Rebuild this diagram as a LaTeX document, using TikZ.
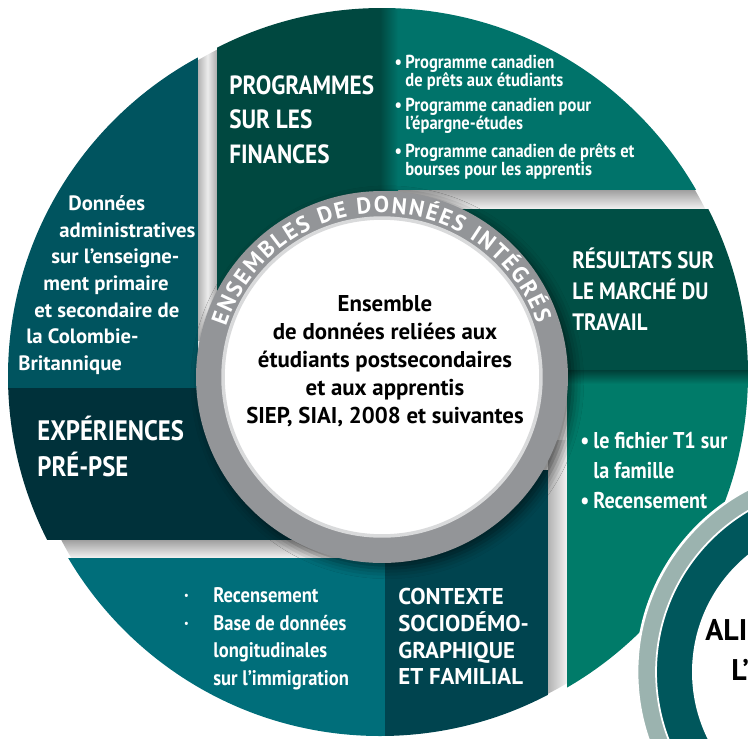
\documentclass[tikz,border=0pt]{standalone}
\usepackage{fontspec}
\setmainfont{PT Sans}
\newfontfamily\condfont[FakeStretch=0.88]{PT Sans}
\usetikzlibrary{positioning,decorations.text,shadows.blur}
\definecolor{tealblue}{HTML}{00545F}
\definecolor{deepgreen}{HTML}{004840}
\definecolor{midgreen}{HTML}{00736A}
\definecolor{darkgreen}{HTML}{004F45}
\definecolor{lightgreen}{HTML}{007B69}
\definecolor{nightteal}{HTML}{00313A}
\definecolor{oceanteal}{HTML}{006E7A}
\definecolor{slateteal}{HTML}{00444F}
\definecolor{ringgrey}{HTML}{939598}
\definecolor{sagegrey}{HTML}{9BB3AF}
\definecolor{innerteal}{HTML}{00575C}

\begin{document}
\begin{tikzpicture}[x=0.02cm, y=0.02cm,
    heading/.style={text=white, inner sep=0pt, anchor=north west, align=left,
                    font=\condfont\bfseries\fontsize{15}{19.6}\selectfont},
    listing/.style={text=white, inner sep=0pt, anchor=north west, align=left,
                    font=\condfont\bfseries\fontsize{10.7}{10.3}\selectfont},
    plain/.style={text=white, inner sep=0pt, font=\bfseries\fontsize{11.8}{15}\selectfont},
    disc/.style={circle, inner sep=0pt},
  ]
  \useasboundingbox (0,0) rectangle (748,-738);
  \clip (0,0) rectangle (748,-738);

  % shadows in the gaps between the pieces
  \begin{scope}
    \clip (382,-372) circle[radius=362];
    \shade[left color=gray!60, right color=gray!65, middle color=gray!15] (198,0) rectangle (217,-340);
    \shade[top color=gray!75, bottom color=gray!10] (380,-190) rectangle (748,-209);
    \shade[top color=gray!75, bottom color=gray!10] (0,-540) rectangle (385,-558);
    \shade[left color=gray!60, right color=gray!10] (548,-440) rectangle (567,-738);
  \end{scope}

  % the pieces of the wheel
  \begin{scope}
    \clip (370,-376) circle[radius=362];
    \fill[tealblue] (0,0) rectangle (198,-388);
    \fill[nightteal] (0,-388) rectangle (385,-540);
  \end{scope}
  \begin{scope}
    \clip (382,-370) circle[radius=362];
    \fill[deepgreen] (217,0) rectangle (380,-330);
    \shade[left color=deepgreen, right color=midgreen] (380,0) rectangle (398,-190);
    \fill[midgreen] (398,0) rectangle (748,-190);
  \end{scope}
  \begin{scope}
    \clip (386,-374) circle[radius=362];
    \fill[darkgreen] (430,-209) rectangle (748,-370);
    \fill[lightgreen] (567,-370) rectangle (748,-738);
    \shade[top color=darkgreen!80!black, bottom color=lightgreen] (567,-370) rectangle (748,-384);
  \end{scope}
  \begin{scope}
    \clip (380,-374) circle[radius=362];
    \fill[oceanteal] (0,-558) rectangle (385,-738);
    \fill[slateteal] (385,-470) rectangle (548,-738);
  \end{scope}

  % central hub
  \node[disc, fill=ringgrey, minimum size=7.44cm,
        blur shadow={shadow xshift=3pt, shadow yshift=-3pt, shadow blur radius=6pt, shadow opacity=55}]
        (ring) at (382,-377) {};
  \node[disc, fill=white, draw=ringgrey!35!white, line width=2pt, minimum size=6.36cm] (hub) at (ring.center) {};
  \path[decorate, decoration={text along path, text align={fit to path},
        text={|\bfseries\fontsize{13}{14}\selectfont\color{white}|ENSEMBLES DE DONNÉES INTÉGRÉS}}]
    ([shift={(162:164)}]ring.center) arc[start angle=162, end angle=19, radius=164];
  \node[align=center, inner sep=0pt, anchor=north, font=\bfseries\fontsize{13}{15.9}\selectfont]
    (core) at (385,-295) {Ensemble\\de données reliées aux\\étudiants postsecondaires\\et aux apprentis\\SIEP, SIAI, 2008 et suivantes};

  % headings
  \node[heading] (finhead) at (229,-75) {PROGRAMMES\\SUR LES\\FINANCES};
  \node[heading, font=\condfont\bfseries\fontsize{13.5}{17.5}\selectfont] (jobhead) at (572,-248) {RÉSULTATS SUR\\LE MARCHÉ DU\\TRAVAIL};
  \node[heading, font=\condfont\bfseries\fontsize{16}{20.5}\selectfont] (prehead) at (37,-416) {EXPÉRIENCES\\PRÉ-PSE};
  \node[plain, anchor=north west, align=left, font=\bfseries\fontsize{13}{15.2}\selectfont]
    (context) at (398,-588) {CONTEXTE\\SOCIODÉMO-\\GRAPHIQUE\\ET FAMILIAL};

  % lists
  \node[listing] (loan) at (405,-55) {\llap{•\,}Programme canadien\\de prêts aux étudiants};
  \node[listing] (saving) at (405,-98) {\llap{•\,}Programme canadien pour\\l’épargne-études};
  \node[listing] (grant) at (405,-143) {\llap{•\,}Programme canadien de prêts et\\bourses pour les apprentis};
  \node[listing, font=\condfont\bfseries\fontsize{13}{17}\selectfont] (family) at (593,-432)
    {\llap{•\,}le fichier T1 sur\\la famille\\\llap{•\,}Recensement};
  \node[listing, font=\condfont\bfseries\fontsize{12}{15.8}\selectfont] (census) at (213,-587)
    {\llap{·\hspace{14pt}}Recensement\\\llap{·\hspace{14pt}}Base de données\\longitudinales\\sur l’immigration};
  \foreach \txt/\xx/\yy [count=\i] in {Données/68/210, administratives/59/237,
      sur l’enseigne-/51/263, ment primaire/43/290, et secondaire de/34/317,
      la Colombie-/26/343, Britannique/18/370}
    \node[plain, anchor=base west] (admin\i) at (\xx,-\yy) {\txt};

  % second wheel, cut by the edge
  \node[disc, fill=sagegrey, draw=white, line width=1.5pt, minimum size=8.24cm] (goal) at (843,-672) {};
  \node[disc, fill=innerteal, draw=white, line width=1pt, minimum size=7.48cm] (goalband) at (goal.center) {};
  \node[disc, fill=white, minimum size=6.04cm] (goalcore) at (goal.center) {};
  \node[anchor=base west, inner sep=0pt, font=\bfseries\fontsize{17}{20}\selectfont] (goalone) at (705,-640) {ALI};
  \node[anchor=base west, inner sep=0pt, font=\bfseries\fontsize{17}{20}\selectfont] (goaltwo) at (731,-680) {L’};
\end{tikzpicture}
\end{document}
